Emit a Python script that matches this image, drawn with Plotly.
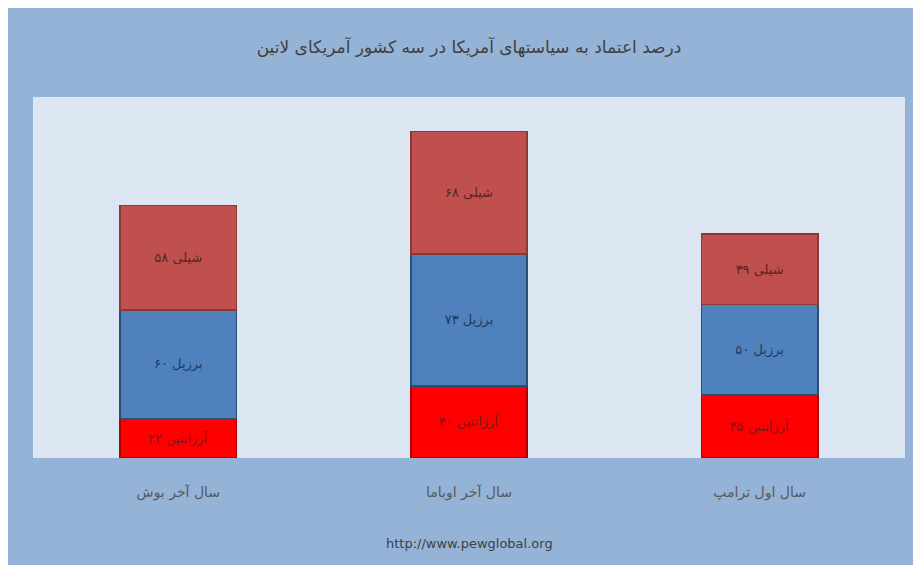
import plotly.graph_objects as go

categories = ["سال آخر بوش", "سال آخر اوباما", "سال اول ترامپ"]
argentina = [22, 40, 35]
brazil = [60, 73, 50]
chile = [58, 68, 39]
series_names = ["آرژانتین", "برزیل", "شیلی"]
title_text = "درصد اعتماد به سیاستهای آمریکا در سه کشور آمریکای لاتین"
source_text = "http://www.pewglobal.org"

def fa_digits(n):
    return str(n).translate(str.maketrans("0123456789", "۰۱۲۳۴۵۶۷۸۹"))

W, H = 921, 565
L, R, T, B = 25, 24, 89, 115
pw, ph = W - L - R, H - T - B

fig = go.Figure()
styles = [("#ff0000", "#b00000", "#7a1a1a"), ("#4f81bd", "#2c4d75", "#1f3a5f"), ("#c0504d", "#8c3836", "#5a2422")]
for name, vals, (fill, edge, tc) in zip(series_names, [argentina, brazil, chile], styles):
    fig.add_trace(go.Bar(
        x=categories, y=vals, name=name,
        text=[f"{name} {fa_digits(v)}" for v in vals],
        textposition="inside", insidetextanchor="middle",
        textfont=dict(family="DejaVu Sans", size=13, color=tc),
        marker=dict(color=fill, line=dict(color=edge, width=1.5)),
        width=0.4,
    ))

fig.update_layout(
    width=W, height=H, barmode="stack", showlegend=False,
    margin=dict(l=L, r=R, t=T, b=B),
    paper_bgcolor="#95b3d7", plot_bgcolor="#dce6f2",
    title=dict(text=title_text, x=(L + pw / 2) / W, xanchor="center", y=1 - 39 / H, yanchor="middle",
               font=dict(family="DejaVu Sans", size=17, color="#404040")),
    xaxis=dict(showgrid=False, showline=False, zeroline=False, ticks="",
               tickfont=dict(family="DejaVu Sans", size=14, color="#595959"),
               ticklabelstandoff=24),
    yaxis=dict(range=[0, 200], visible=False, showgrid=False),
    uniformtext=dict(mode="show", minsize=10),
)
fig.add_annotation(text=source_text, xref="paper", yref="paper", x=0.5, y=-(535 - 450) / ph,
                   showarrow=False, xanchor="center", yanchor="middle",
                   font=dict(family="DejaVu Sans", size=13, color="#404040"))

fig.write_html("out.html")
